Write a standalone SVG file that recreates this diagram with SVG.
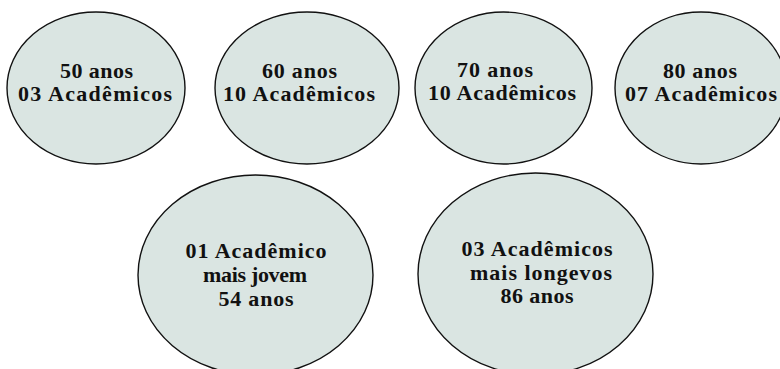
<svg xmlns="http://www.w3.org/2000/svg" width="780" height="369" viewBox="0 0 780 369">
<style>
.n{fill:#dae5e2;stroke:#111;stroke-width:1.4}
.t{font-family:"Liberation Serif","Times New Roman",serif;font-weight:bold;font-size:22px;fill:#111;text-anchor:middle}
</style>
<rect width="780" height="369" fill="#fff"/>
<g id="n50">
<ellipse class="n" cx="96" cy="88" rx="89" ry="76"/>
<text class="t" x="96.5" y="77.5" textLength="73" lengthAdjust="spacing">50 anos</text>
<text class="t" x="95" y="100.5" textLength="154" lengthAdjust="spacing">03 Acadêmicos</text>
</g>
<g id="n60">
<ellipse class="n" cx="307" cy="88" rx="92" ry="76"/>
<text class="t" x="299.5" y="77.5" textLength="75" lengthAdjust="spacing">60 anos</text>
<text class="t" x="299" y="100.5" textLength="152" lengthAdjust="spacing">10 Acadêmicos</text>
</g>
<g id="n70">
<ellipse class="n" cx="503.5" cy="88" rx="88.5" ry="76"/>
<text class="t" x="495" y="76.5" textLength="76" lengthAdjust="spacing">70 anos</text>
<text class="t" x="502" y="99.5" textLength="148" lengthAdjust="spacing">10 Acadêmicos</text>
</g>
<g id="n80">
<ellipse class="n" cx="701" cy="88" rx="86" ry="76"/>
<text class="t" x="700" y="77.5" textLength="74" lengthAdjust="spacing">80 anos</text>
<text class="t" x="701" y="100.5" textLength="152" lengthAdjust="spacing">07 Acadêmicos</text>
</g>
<g id="jovem">
<ellipse class="n" cx="255.5" cy="275" rx="117.5" ry="100"/>
<text class="t" x="256" y="258" textLength="141" lengthAdjust="spacing">01 Acadêmico</text>
<text class="t" x="255" y="282" textLength="104" lengthAdjust="spacing">mais jovem</text>
<text class="t" x="256" y="306" textLength="75" lengthAdjust="spacing">54 anos</text>
</g>
<g id="longevos">
<ellipse class="n" cx="535.5" cy="274" rx="117.5" ry="101"/>
<text class="t" x="537" y="256" textLength="151" lengthAdjust="spacing">03 Acadêmicos</text>
<text class="t" x="541" y="279.5" textLength="142" lengthAdjust="spacing">mais longevos</text>
<text class="t" x="537" y="303" textLength="73" lengthAdjust="spacing">86 anos</text>
</g>
<g id="connectors"></g>
</svg>
